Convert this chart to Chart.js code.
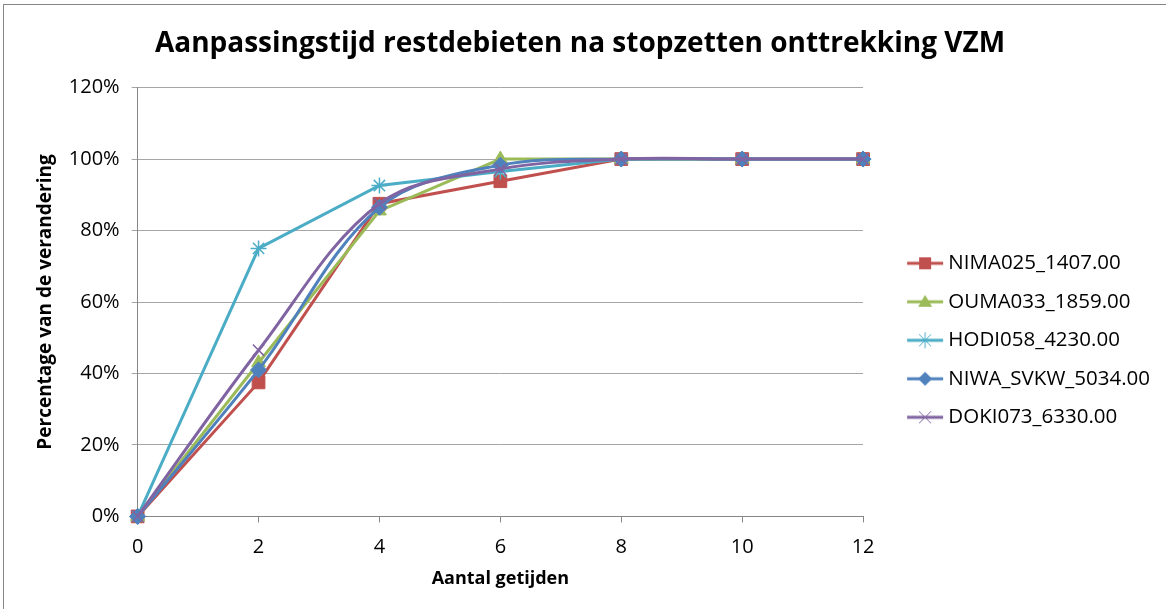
<!DOCTYPE html>
<html lang="nl">
<head>
  <meta charset="UTF-8">
  <title>Aanpassingstijd restdebieten</title>
  <script src="https://cdn.jsdelivr.net/npm/chart.js"></script>
  <style>
    body { margin: 0; background: #fff; overflow: hidden; }
    .frame { position: absolute; left: 3px; top: 4px; width: 1200px; height: 700px; border: 1px solid #868686; }
    .chart-container { position: absolute; left: 0; top: 0; width: 1166px; height: 609px; }
  </style>
</head>
<body>
  <div class="frame"></div>
  <div class="chart-container">
    <canvas id="restChart"></canvas>
  </div>

  <script>
    // getijden (x-as)
    const getijden = ['0', '2', '4', '6', '8', '10', '12'];

    // percentage van de verandering per meetpunt
    const nima025 = [0, 37.5, 87.5, 93.8, 100, 100, 100];
    const ouma033 = [0, 43, 85.5, 100, 100, 100, 100];
    const hodi058 = [0, 75, 92.6, 96.5, 100, 100, 100];
    const niwaSvkw = [0, 41, 86.5, 98.3, 100, 100, 100];
    const doki073 = [0, 46.5, 87.5, 97.2, 100, 100, 100];

    const yTicks = [0, 20, 40, 60, 80, 100, 120];

    const fontFam = '"Open Sans", Lato, sans-serif';

    const series = [
      { label: 'NIMA025_1407.00', data: nima025, color: '#C0504D', style: 'rect', radius: 9, tension: 0 },
      { label: 'OUMA033_1859.00', data: ouma033, color: '#9BBB59', style: 'triangle', radius: 8, tension: 0 },
      { label: 'HODI058_4230.00', data: hodi058, color: '#4BACC6', style: 'star', radius: 8, tension: 0 },
      { label: 'NIWA_SVKW_5034.00', data: niwaSvkw, color: '#4F81BD', style: 'rectRot', radius: 8, tension: 0.35 },
      { label: 'DOKI073_6330.00', data: doki073, color: '#8064A2', style: 'crossRot', radius: 8, tension: 0.35 }
    ];

    // legend symbool: lijn met marker, iets naar rechts geschoven richting de tekst
    function legendIcon(s) {
      const c = document.createElement('canvas');
      c.width = 50; c.height = 18;
      const g = c.getContext('2d');
      g.strokeStyle = s.color;
      g.fillStyle = s.color;
      g.lineWidth = 3;
      g.beginPath(); g.moveTo(12, 9); g.lineTo(48, 9); g.stroke();
      const x = 30, y = 9;
      g.lineWidth = 1;
      g.beginPath();
      if (s.style === 'rect') {
        g.fillRect(x - 6, y - 6, 12, 12);
      } else if (s.style === 'triangle') {
        g.moveTo(x, y - 7); g.lineTo(x + 7, y + 5); g.lineTo(x - 7, y + 5); g.closePath(); g.fill();
      } else if (s.style === 'rectRot') {
        g.moveTo(x, y - 7); g.lineTo(x + 7, y); g.lineTo(x, y + 7); g.lineTo(x - 7, y); g.closePath(); g.fill();
      } else if (s.style === 'star') {
        g.moveTo(x - 6, y - 6); g.lineTo(x + 6, y + 6);
        g.moveTo(x + 6, y - 6); g.lineTo(x - 6, y + 6);
        g.moveTo(x, y - 8); g.lineTo(x, y + 8);
        g.stroke();
      } else if (s.style === 'crossRot') {
        g.moveTo(x - 6, y - 6); g.lineTo(x + 6, y + 6);
        g.moveTo(x + 6, y - 6); g.lineTo(x - 6, y + 6);
        g.stroke();
      }
      return c;
    }

    const icons = series.map(legendIcon);

    const ctx = document.getElementById('restChart').getContext('2d');
    const chart = new Chart(ctx, {
      type: 'line',
      data: {
        labels: getijden,
        datasets: series.map((s, i) => ({
          label: s.label,
          data: s.data,
          borderColor: s.color,
          backgroundColor: s.color,
          borderWidth: 3,
          tension: s.tension,
          pointStyle: s.style,
          pointRadius: s.radius,
          pointBackgroundColor: s.color,
          pointBorderColor: s.color,
          pointBorderWidth: (s.style === 'star' || s.style === 'crossRot') ? 1.5 : 1,
          order: series.length - i,
          fill: false,
          clip: false
        }))
      },
      options: {
        responsive: true,
        maintainAspectRatio: false,
        animation: false,
        layout: { padding: { left: 0, top: 0, bottom: 0, right: 6 } },
        plugins: {
          title: {
            display: true,
            text: 'Aanpassingstijd restdebieten na stopzetten onttrekking VZM',
            color: '#000',
            font: { family: fontFam, size: 28, weight: 'bold' },
            padding: { top: 27, bottom: 27 }
          },
          legend: {
            position: 'right',
            maxWidth: 300,
            title: {
              display: true,
              text: ' ',
              font: { family: fontFam, size: 18 },
              padding: { top: 50, bottom: 0 }
            },
            labels: {
              color: '#000',
              font: { family: fontFam, size: 20.5 },
              usePointStyle: true,
              pointStyleWidth: 36,
              padding: 18,
              generateLabels: (c) => series.map((s, i) => ({
                text: s.label,
                fillStyle: s.color,
                strokeStyle: s.color,
                fontColor: '#000',
                lineWidth: 0,
                pointStyle: icons[i],
                datasetIndex: i,
                hidden: false
              }))
            }
          },
          tooltip: { enabled: false }
        },
        scales: {
          x: {
            offset: false,
            grid: { drawOnChartArea: false, drawTicks: true, tickLength: 6, color: '#868686' },
            border: { color: '#868686' },
            ticks: { color: '#000', font: { family: fontFam, size: 20 }, padding: 13, maxRotation: 0 },
            title: {
              display: true,
              text: 'Aantal getijden',
              color: '#000',
              font: { family: fontFam, size: 18, weight: 'bold' },
              padding: { top: -4, bottom: 19 }
            }
          },
          y: {
            min: 0,
            max: 120,
            afterBuildTicks: (axis) => { axis.ticks = yTicks.map(v => ({ value: v })); },
            grid: { color: '#A6A6A6', drawTicks: true, tickLength: 6 },
            border: { color: '#868686' },
            ticks: {
              color: '#000',
              font: { family: fontFam, size: 20 },
              padding: 12,
              callback: (v) => v + '%'
            },
            title: {
              display: true,
              text: 'Percentage van de verandering',
              color: '#000',
              font: { family: fontFam, size: 19, weight: 'bold' },
              padding: { top: 34, bottom: 0 }
            }
          },
          gap: {
            position: 'right',
            display: true,
            grid: { display: false },
            border: { display: false },
            ticks: { display: false },
            afterFit: (axis) => { axis.width = 21; }
          }
        }
      }
    });
  </script>
</body>
</html>
